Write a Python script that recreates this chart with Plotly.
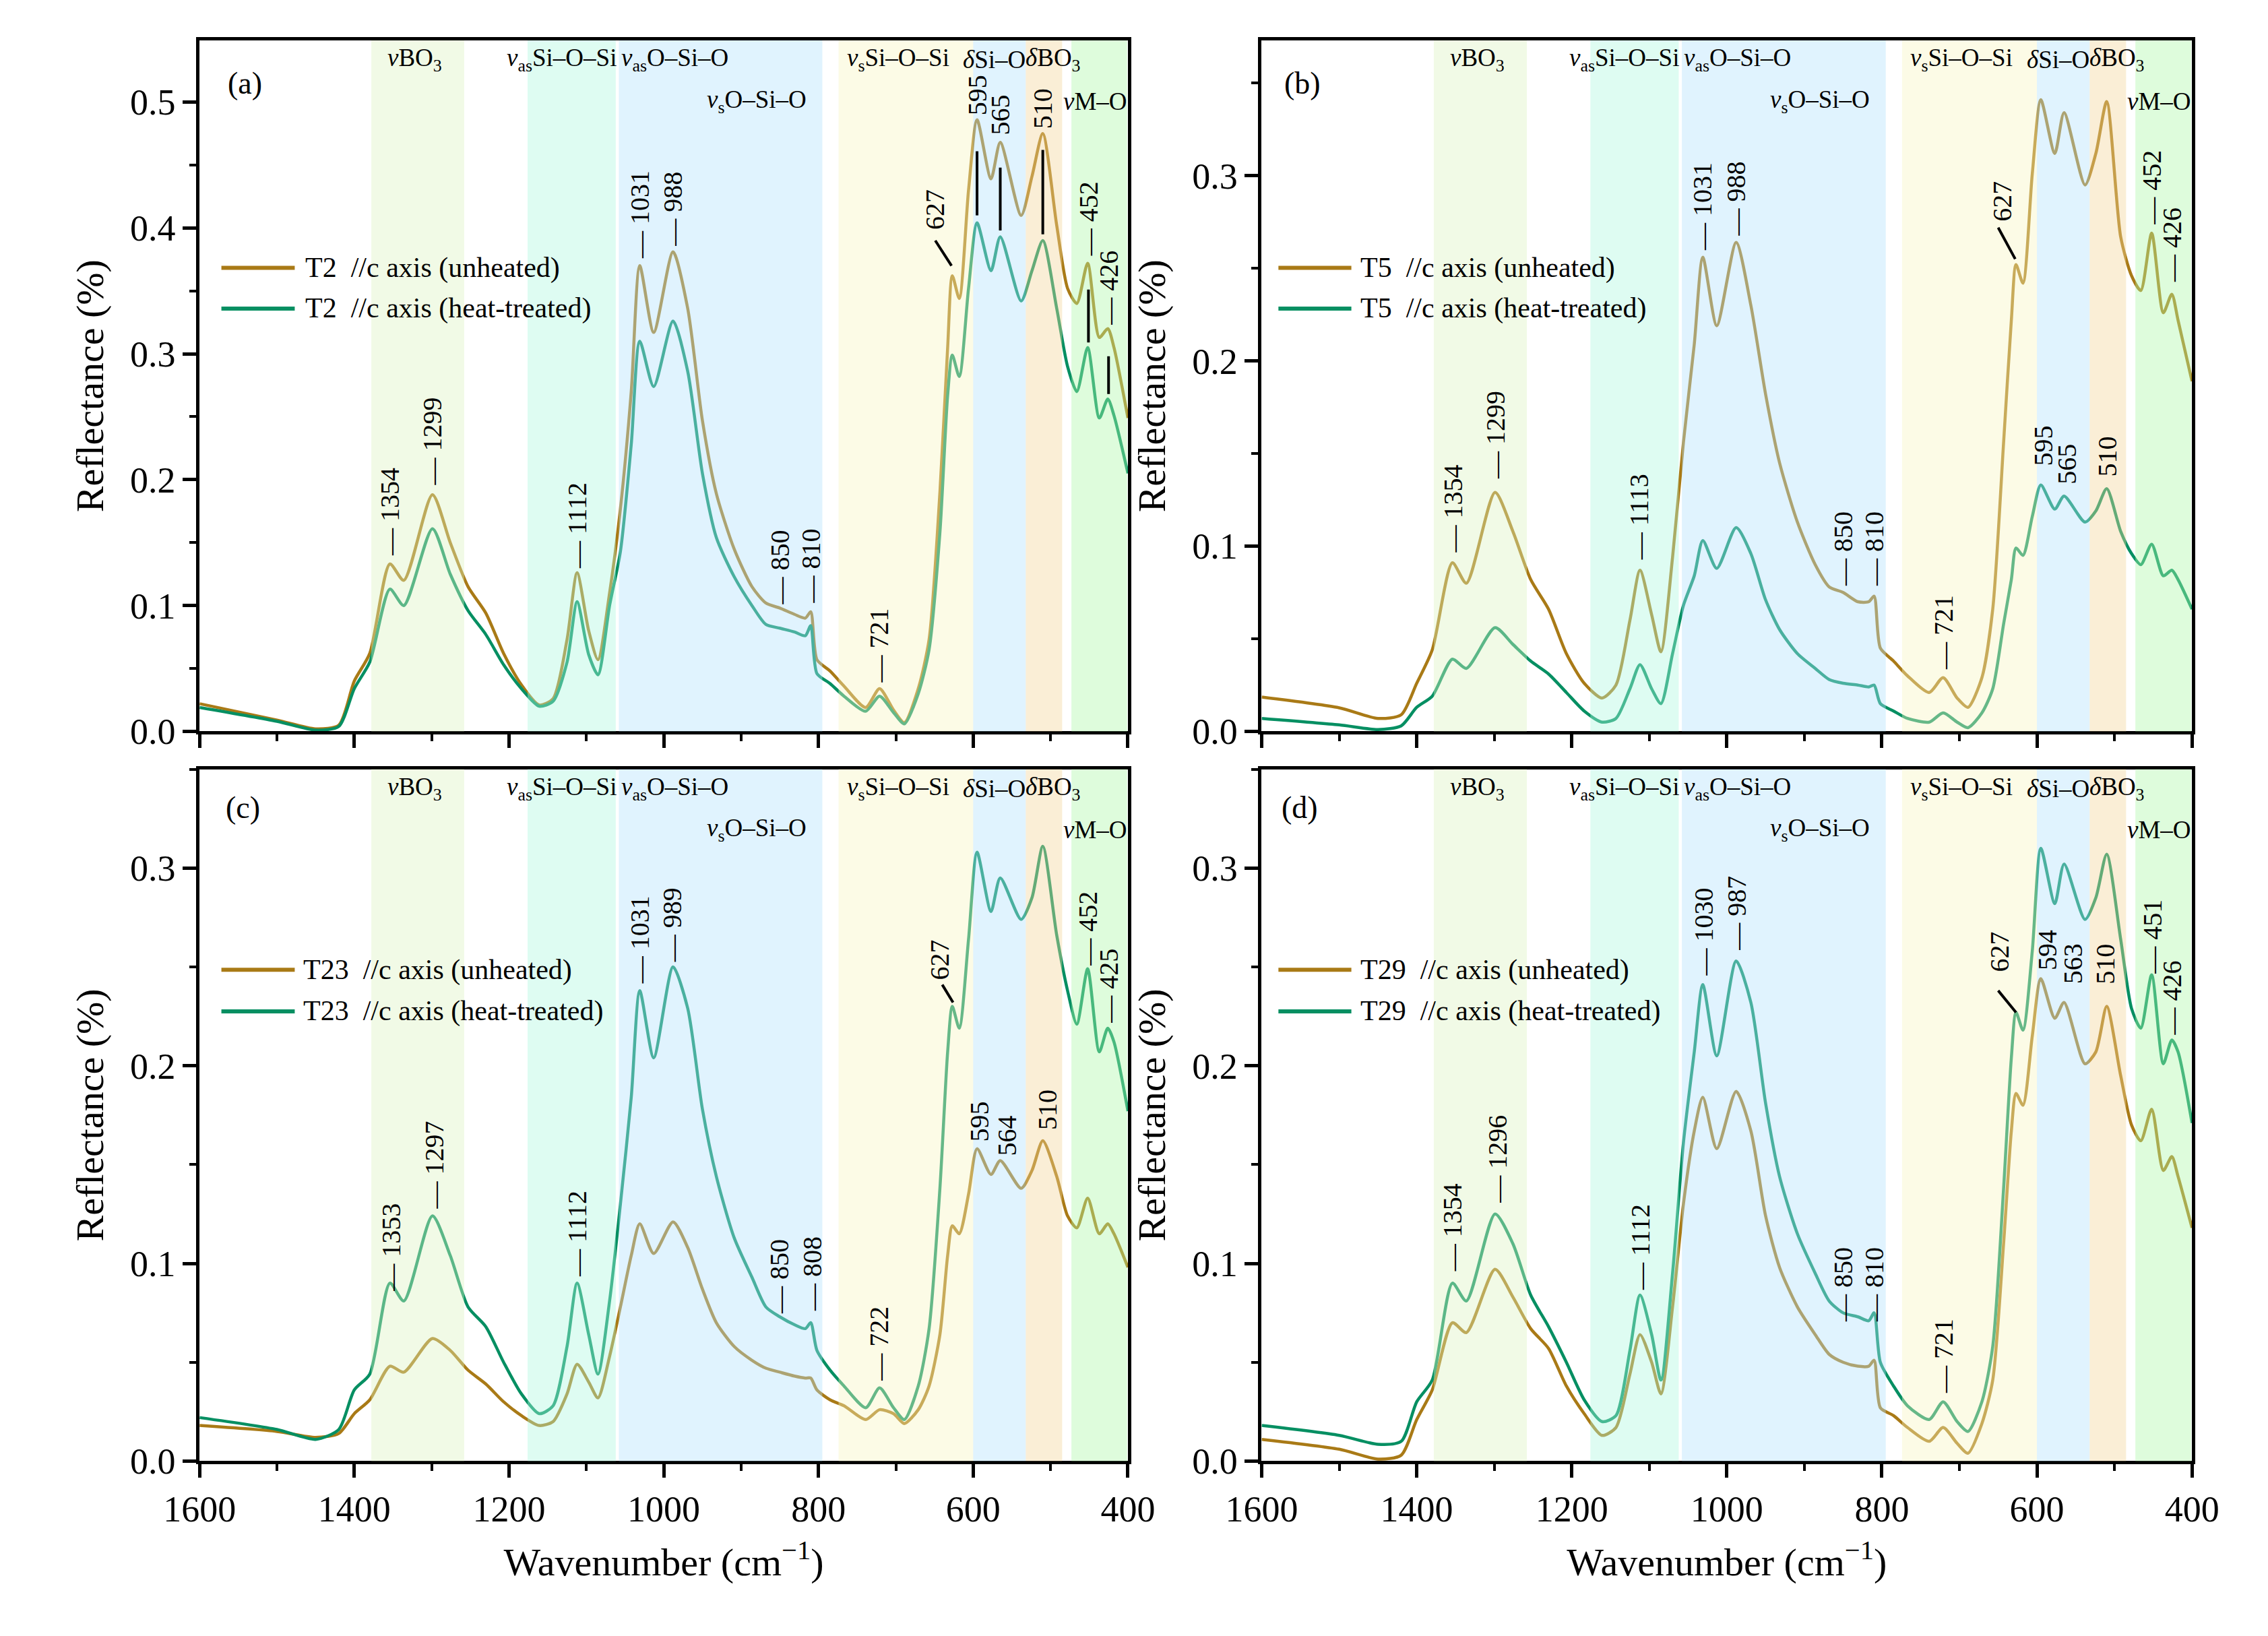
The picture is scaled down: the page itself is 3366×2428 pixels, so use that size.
import plotly.graph_objects as go

# ---- data ----
WAVENUMBER = [1600, 1500, 1450, 1420, 1400, 1380, 1354, 1336, 1299, 1276, 1253, 1230, 1207, 1184,
              1161, 1143, 1125, 1112, 1097, 1085, 1070, 1056, 1042, 1031, 1013, 988, 969, 950, 932,
              909, 886, 868, 850, 831, 817, 810, 802, 785, 767, 739, 721, 703, 689, 671, 657, 643,
              633, 627, 618, 606, 595, 577, 565, 538, 524, 510, 492, 478, 466, 452, 437, 426, 418, 400]

T2_UNHEATED = [.022, .009, .002, .005, .040, .062, .133, .120, .188, .150, .115, .094, .062, .037,
               .021, .026, .073, .126, .080, .057, .110, .177, .270, .370, .317, .381, .336, .247, .189,
               .145, .115, .102, .098, .093, .090, .095, .057, .048, .036, .019, .034, .017, .007, .034, .073, .190,
               .305, .362, .344, .430, .486, .439, .468, .410, .441, .475, .402, .352, .340, .372, .313, .320, .305, .249]
T2_HEATED = [.019, .008, .001, .004, .034, .055, .113, .100, .161, .125, .096, .077, .053, .034,
             .020, .024, .055, .103, .061, .045, .100, .143, .228, .310, .274, .326, .286, .205, .154,
             .123, .100, .085, .082, .079, .076, .084, .046, .038, .028, .016, .028, .015, .006, .030, .065, .158,
             .267, .299, .282, .352, .404, .366, .393, .342, .366, .390, .336, .290, .270, .305, .249, .264, .251, .205]

T5_UNHEATED = [.0185, .0127, .007, .009, .026, .044, .091, .080, .129, .108, .082, .066, .042, .026,
               .018, .025, .060, .087, .063, .043, .094, .156, .209, .256, .219, .264, .230, .182, .145,
               .113, .090, .078, .075, .070, .070, .073, .045, .038, .030, .021, .029, .018, .013, .029, .066, .156,
               .222, .252, .242, .301, .341, .312, .334, .295, .312, .340, .267, .246, .238, .269, .226, .236, .222, .189]
T5_HEATED = [.007, .0035, .001, .003, .013, .019, .039, .034, .056, .047, .038, .031, .021, .011,
             .005, .007, .023, .036, .023, .015, .042, .068, .084, .103, .088, .110, .096, .071, .055,
             .042, .034, .028, .026, .025, .024, .025, .015, .011, .007, .005, .010, .005, .002, .010, .023, .058,
             .082, .099, .095, .116, .133, .120, .127, .113, .119, .131, .108, .096, .090, .101, .084, .087, .082, .066]

T23_UNHEATED = [.018, .015, .012, .014, .024, .031, .048, .045, .062, .056, .046, .039, .030, .023,
                .018, .020, .034, .049, .040, .032, .053, .078, .104, .120, .105, .121, .108, .087, .070,
                .058, .051, .047, .045, .043, .042, .042, .036, .031, .028, .021, .026, .024, .019, .026, .038, .064,
                .104, .119, .115, .135, .158, .145, .152, .138, .147, .162, .144, .124, .118, .133, .115, .120, .115, .098]
T23_HEATED = [.022, .016, .011, .016, .036, .044, .090, .081, .124, .104, .078, .068, .050, .034,
              .024, .028, .058, .090, .064, .044, .081, .130, .184, .238, .204, .250, .229, .178, .144,
              .113, .093, .078, .073, .069, .067, .070, .056, .046, .038, .027, .037, .027, .021, .038, .067, .138,
              .207, .230, .219, .264, .308, .278, .295, .274, .285, .311, .266, .238, .221, .249, .207, .219, .212, .177]

T29_UNHEATED = [.011, .006, .001, .003, .021, .036, .070, .065, .097, .083, .067, .057, .038, .024,
                .013, .017, .044, .064, .050, .034, .078, .130, .167, .184, .158, .187, .167, .124, .098,
                .078, .064, .054, .050, .048, .048, .051, .027, .023, .017, .010, .017, .009, .004, .019, .041, .110,
                .167, .186, .180, .215, .244, .224, .232, .201, .207, .230, .195, .170, .162, .178, .147, .154, .144, .118]
T29_HEATED = [.018, .013, .0085, .010, .030, .041, .090, .081, .125, .110, .084, .068, .050, .031,
              .020, .023, .056, .084, .064, .041, .095, .161, .207, .241, .205, .253, .232, .181, .144,
              .115, .095, .081, .075, .073, .071, .075, .050, .038, .028, .021, .030, .020, .015, .030, .058, .138,
              .204, .227, .218, .258, .310, .282, .302, .274, .285, .307, .264, .229, .219, .246, .201, .213, .207, .171]

SAMPLES = ["T2", "T5", "T23", "T29"]
PANEL_TAGS = ["(a)", "(b)", "(c)", "(d)"]
UNHEATED = [T2_UNHEATED, T5_UNHEATED, T23_UNHEATED, T29_UNHEATED]
HEATED = [T2_HEATED, T5_HEATED, T23_HEATED, T29_HEATED]
Y_MAX = [0.549, 0.373, 0.35, 0.35]

# vibration bands (cm-1)
BAND_EDGES = [(1378, 1258), (1176, 1062), (1058, 795), (774, 600), (600, 532), (532, 485), (473, 401)]
BAND_COLORS = ["rgb(220,242,192)", "rgb(172,247,222)", "rgb(177,225,252)", "rgb(247,245,192)",
               "rgb(177,225,252)", "rgb(242,212,152)", "rgb(172,247,167)"]
BAND_LABELS = ["<i>v</i>BO<sub>3</sub>", "<i>v</i><sub>as</sub>Si–O–Si", "<i>v</i><sub>as</sub>O–Si–O",
               "<i>v</i><sub>s</sub>O–Si–O", "<i>v</i><sub>s</sub>Si–O–Si", "<i>δ</i>Si–O",
               "<i>δ</i>BO<sub>3</sub>", "<i>v</i>M–O"]
BAND_LABEL_X = [1322, 1132, 986, 880, 697, 573, 497, 442]
BAND_LABEL_ROW = [1, 1, 1, 2, 1, 1, 1, 2]

# peak labels: (text, wavenumber, reflectance at label bottom, with dash)
PEAKS = [
    [("1354", 1354, .139, True), ("1299", 1299, .195, True), ("1112", 1112, .129, True),
     ("1031", 1031, .375, True), ("988", 988, .385, True), ("850", 850, .100, True),
     ("810", 810, .101, True), ("721", 721, .038, True), ("627", 650, .398, False),
     ("595", 595, .489, False), ("565", 565, .473, False), ("510", 510, .478, False),
     ("452", 451, .377, True), ("426", 425, .322, True)],
    [("1354", 1354, .096, True), ("1299", 1299, .136, True), ("1113", 1113, .092, True),
     ("1031", 1031, .259, True), ("988", 988, .267, True), ("850", 850, .078, True),
     ("810", 810, .078, True), ("721", 721, .033, True), ("627", 645, .275, False),
     ("595", 592, .143, False), ("565", 561, .133, False), ("510", 509, .137, False),
     ("452", 452, .273, True), ("426", 426, .242, True)],
    [("1353", 1353, .0855, True), ("1297", 1297, .127, True), ("1112", 1112, .093, True),
     ("1031", 1031, .241, True), ("989", 989, .252, True), ("850", 850, .074, True),
     ("808", 808, .0755, True), ("722", 722, .040, True), ("627", 643, .243, False),
     ("595", 592, .161, False), ("564", 556, .154, False), ("510", 504, .167, False),
     ("452", 452, .250, True), ("425", 425, .221, True)],
    [("1354", 1354, .0955, True), ("1296", 1296, .130, True), ("1112", 1112, .086, True),
     ("1030", 1030, .245, True), ("987", 987, .258, True), ("850", 850, .070, True),
     ("810", 810, .070, True), ("721", 721, .034, True), ("627", 648, .247, False),
     ("594", 586, .248, False), ("563", 554, .241, False), ("510", 512, .241, False),
     ("451", 451, .246, True), ("426", 426, .215, True)],
]
# leader lines: (x0, y0, x1, y1)
LEADERS = [
    [(628, .370, 649, .390), (595, .410, 595, .461), (565, .398, 565, .448), (510, .395, 510, .462),
     (451, .309, 451, .351), (425, .268, 425, .298)],
    [(628, .255, 650, .272)],
    [(626, .232, 640, .241)],
    [(627, .227, 650, .238)],
]

GOLD = "#A97A16"
GREEN = "#068F62"
FONT = "Liberation Serif"

# ---- layout geometry (paper fractions) ----
X_DOMAINS = [[0.0716, 0.4928], [0.5535, 0.9756], [0.0716, 0.4928], [0.5535, 0.9756]]
Y_DOMAINS = [[0.5505, 0.9783], [0.5505, 0.9783], [0.0987, 0.5271], [0.0987, 0.5271]]
LEGEND_X = [(0.0235, 0.1025, 0.112), (0.018, 0.0964, 0.105), (0.0235, 0.1025, 0.110), (0.018, 0.0964, 0.105)]
LEGEND_Y = [(0.671, 0.612), (0.671, 0.612), (0.710, 0.650), (0.710, 0.650)]
TAG_POS = [(0.029, 0.938), (0.023, 0.938), (0.027, 0.945), (0.020, 0.945)]

fig = go.Figure()
shapes = []
annotations = []

for i in range(4):
    xa = "x" if i == 0 else f"x{i + 1}"
    ya = "y" if i == 0 else f"y{i + 1}"
    xkey = "xaxis" if i == 0 else f"xaxis{i + 1}"
    ykey = "yaxis" if i == 0 else f"yaxis{i + 1}"
    bottom = i >= 2

    fig.add_trace(go.Scatter(x=WAVENUMBER, y=UNHEATED[i], mode="lines", xaxis=xa, yaxis=ya,
                             name=f"{SAMPLES[i]} //c axis (unheated)", showlegend=False,
                             line=dict(color=GOLD, width=4.5, shape="spline", smoothing=0.7)))
    fig.add_trace(go.Scatter(x=WAVENUMBER, y=HEATED[i], mode="lines", xaxis=xa, yaxis=ya,
                             name=f"{SAMPLES[i]} //c axis (heat-treated)", showlegend=False,
                             line=dict(color=GREEN, width=4.5, shape="spline", smoothing=0.7)))

    axis_common = dict(showline=True, linecolor="black", linewidth=5, mirror=True,
                       ticks="outside", tickwidth=5, ticklen=20, tickcolor="black",
                       showgrid=False, zeroline=False,
                       tickfont=dict(family=FONT, size=54, color="black"))
    fig.layout[xkey] = dict(axis_common, domain=X_DOMAINS[i], anchor=ya, range=[1600, 400],
                            tick0=400, dtick=200, showticklabels=bottom,
                            minor=dict(ticks="outside", ticklen=10, tickwidth=4, dtick=100, tickcolor="black"),
                            title=dict(text="Wavenumber (cm<sup>−1</sup>)" if bottom else "",
                                       font=dict(family=FONT, size=58, color="black"), standoff=30))
    fig.layout[ykey] = dict(axis_common, domain=Y_DOMAINS[i], anchor=xa, range=[0, Y_MAX[i]],
                            tick0=0, dtick=0.1, tickformat=".1f",
                            minor=dict(ticks="outside", ticklen=10, tickwidth=4, dtick=0.05, tickcolor="black"),
                            title=dict(text="Reflectance (%)", font=dict(family=FONT, size=58, color="black"),
                                       standoff=22))

    # shaded bands, drawn over the spectra
    for (x0, x1), col in zip(BAND_EDGES, BAND_COLORS):
        shapes.append(dict(type="rect", xref=xa, yref=f"{ya} domain", x0=x0, x1=x1, y0=0, y1=1,
                           fillcolor=col, opacity=0.4, line=dict(width=0), layer="above"))
    for text, bx, row in zip(BAND_LABELS, BAND_LABEL_X, BAND_LABEL_ROW):
        annotations.append(dict(text=text, x=bx, y=0.972 if row == 1 else 0.912, xref=xa,
                                yref=f"{ya} domain", showarrow=False, xanchor="center", yanchor="middle",
                                font=dict(family=FONT, size=37, color="black")))

    # peak labels
    for text, px_, py_, dash in PEAKS[i]:
        annotations.append(dict(text=("— " + text) if dash else text, x=px_, y=py_, xref=xa, yref=ya,
                                textangle=-90, showarrow=False, xanchor="center", yanchor="bottom",
                                borderpad=0, font=dict(family=FONT, size=40, color="black")))
    for x0, y0, x1, y1 in LEADERS[i]:
        shapes.append(dict(type="line", xref=xa, yref=ya, x0=x0, y0=y0, x1=x1, y1=y1,
                           line=dict(color="black", width=4), layer="above"))

    # panel tag
    annotations.append(dict(text=PANEL_TAGS[i], x=TAG_POS[i][0], y=TAG_POS[i][1], xref=f"{xa} domain",
                            yref=f"{ya} domain", showarrow=False, xanchor="left", yanchor="middle",
                            font=dict(family=FONT, size=46, color="black")))

    # legend drawn in the style of the original (long line samples)
    lx0, lx1, tx = LEGEND_X[i]
    for label, col, ly in [("unheated", GOLD, LEGEND_Y[i][0]), ("heat-treated", GREEN, LEGEND_Y[i][1])]:
        shapes.append(dict(type="line", xref=f"{xa} domain", yref=f"{ya} domain", x0=lx0, x1=lx1,
                           y0=ly, y1=ly, line=dict(color=col, width=6), layer="above"))
        annotations.append(dict(text=f"{SAMPLES[i]}  //c axis ({label})", x=tx, y=ly,
                                xref=f"{xa} domain", yref=f"{ya} domain", showarrow=False,
                                xanchor="left", yanchor="middle",
                                font=dict(family=FONT, size=42, color="black")))

fig.update_layout(
    width=3366, height=2428,
    margin=dict(l=0, r=0, t=0, b=0),
    paper_bgcolor="white", plot_bgcolor="white",
    shapes=shapes, annotations=annotations,
    font=dict(family=FONT, color="black"),
    showlegend=False,
)

fig.write_html("out.html")
